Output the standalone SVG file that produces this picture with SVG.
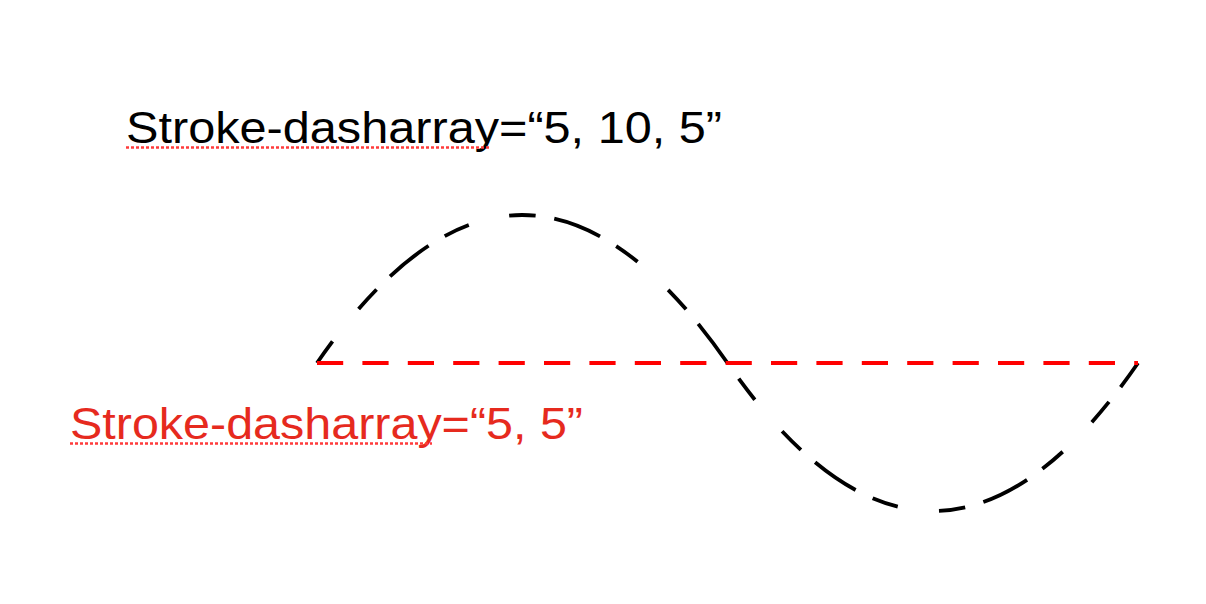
<svg xmlns="http://www.w3.org/2000/svg" width="1206" height="604" viewBox="0 0 1206 604">
  <style>
    .lbl { font-family: "Liberation Sans", Arial, Helvetica, sans-serif; font-size: 45px; }
    .squiggle { fill: none; stroke: #ff3b3b; stroke-width: 2.6; stroke-dasharray: 3 2; }
    .wave { fill: none; stroke: #000000; stroke-width: 3.8; stroke-dasharray: 26.5 41.6 26.5 18.9 49.2 18.9; }
    .axis { fill: none; stroke: #ff0000; stroke-width: 4; stroke-dasharray: 26.2 19.2; }
  </style>
  <rect x="0" y="0" width="1206" height="604" fill="#ffffff"/>
  <g id="connectors">
    <path id="sine-wave" class="wave" d="M317,363 Q522,67 727.5,363 T1138,363"/>
    <path id="red-line" class="axis" d="M317,363 H1138"/>
  </g>
  <g id="label-black">
    <text class="lbl" x="126" y="143" fill="#000000" textLength="596" lengthAdjust="spacingAndGlyphs">Stroke-dasharray=“5, 10, 5”</text>
    <line class="squiggle" x1="126" y1="147.5" x2="490" y2="147.5"/>
  </g>
  <g id="label-red">
    <text class="lbl" x="70" y="439" fill="#e62a1e" textLength="513" lengthAdjust="spacingAndGlyphs">Stroke-dasharray=“5, 5”</text>
    <line class="squiggle" x1="70" y1="443.5" x2="432" y2="443.5"/>
  </g>
</svg>
